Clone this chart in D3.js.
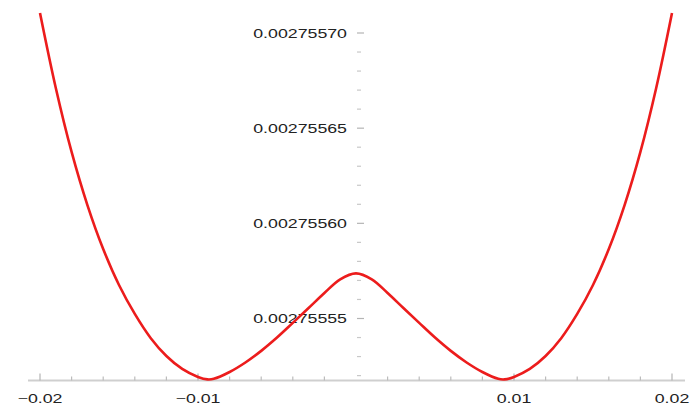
<!DOCTYPE html>
<html>
<head>
<meta charset="utf-8">
<script src="https://cdn.jsdelivr.net/npm/d3@7"></script>
<style>
  html, body { margin: 0; padding: 0; background: #fff; }
  text { font-family: "Liberation Sans", Arial, sans-serif; }
</style>
</head>
<body>
<div id="chart"></div>
<script>
// points
const xValues = [
  -0.02, -0.019, -0.018, -0.017, -0.016, -0.015, -0.014, -0.013, -0.012, -0.011,
  -0.010, -0.0094, -0.009, -0.008, -0.007, -0.006, -0.005, -0.004, -0.003, -0.002, -0.001,
  0,
  0.001, 0.002, 0.003, 0.004, 0.005, 0.006, 0.007, 0.008, 0.009, 0.0094,
  0.010, 0.011, 0.012, 0.013, 0.014, 0.015, 0.016, 0.017, 0.018, 0.019, 0.02
];
const yValues = [
  0.0027557105, 0.0027556711, 0.0027556375, 0.0027556096, 0.0027555865, 0.0027555676,
  0.0027555524, 0.0027555398, 0.0027555303, 0.0027555235,
  0.0027555193, 0.0027555180, 0.0027555183, 0.0027555219, 0.0027555269, 0.0027555330,
  0.0027555400, 0.0027555477, 0.0027555555, 0.0027555634, 0.0027555706,
  0.0027555737,
  0.0027555706, 0.0027555634, 0.0027555555, 0.0027555477, 0.0027555400, 0.0027555330,
  0.0027555269, 0.0027555219, 0.0027555183, 0.0027555180,
  0.0027555193, 0.0027555235, 0.0027555303, 0.0027555398, 0.0027555524,
  0.0027555676, 0.0027555865, 0.0027556096, 0.0027556375, 0.0027556711, 0.0027557105
];
const xMajorTicks = [-0.02, -0.01, 0.01, 0.02];
const xMinorTicks = [-0.018, -0.016, -0.014, -0.012, -0.008, -0.006, -0.004, -0.002,
  0.002, 0.004, 0.006, 0.008, 0.012, 0.014, 0.016, 0.018];
const yMajorTicks = [0.00275555, 0.0027556, 0.00275565, 0.0027557];
const yMinorTicks = [0.00275552, 0.00275553, 0.00275554, 0.00275556, 0.00275557, 0.00275558,
  0.00275559, 0.00275561, 0.00275562, 0.00275563, 0.00275564, 0.00275566, 0.00275567,
  0.00275568, 0.00275569];

const width = 692,
  height = 407;

const x = d3.scaleLinear().domain([-0.02, 0.02]).range([40, 672]);
const y = d3.scaleLinear().domain([0.00275555, 0.0027557]).range([318.5, 33]);
const axisY = 380.5,
  axisX = x(0) + 1;
const stretch = 1.42;

const svg = d3.select("#chart")
  .append("svg")
  .attr("width", width)
  .attr("height", height);

// x axis
svg.append("line")
  .attr("x1", 28).attr("x2", 685)
  .attr("y1", axisY).attr("y2", axisY)
  .style("stroke", "#cfcfcf")
  .style("stroke-width", 2);

svg.selectAll(".xMajor")
  .data(xMajorTicks)
  .enter()
  .append("line")
  .attr("class", "xMajor")
  .attr("x1", d => x(d)).attr("x2", d => x(d))
  .attr("y1", axisY).attr("y2", axisY - 7)
  .style("stroke", "#b4b4b4")
  .style("stroke-width", 1.2);

svg.selectAll(".xMinor")
  .data(xMinorTicks)
  .enter()
  .append("line")
  .attr("class", "xMinor")
  .attr("x1", d => x(d)).attr("x2", d => x(d))
  .attr("y1", axisY).attr("y2", axisY - 4)
  .style("stroke", "#bcbcbc")
  .style("stroke-width", 1.2);

svg.selectAll(".xLabel")
  .data(xMajorTicks)
  .enter()
  .append("text")
  .attr("class", "xLabel")
  .attr("transform", d => `translate(${x(d)},${axisY + 22}) scale(${stretch},1)`)
  .attr("text-anchor", "middle")
  .style("font-size", "12.5px")
  .style("fill", "#222")
  .text(d => d3.format(".2f")(d));

// y axis (ticks only)
svg.selectAll(".yMajor")
  .data(yMajorTicks)
  .enter()
  .append("line")
  .attr("class", "yMajor")
  .attr("x1", axisX).attr("x2", axisX + 7)
  .attr("y1", d => y(d)).attr("y2", d => y(d))
  .style("stroke", "#b4b4b4")
  .style("stroke-width", 1.2);

svg.selectAll(".yMinor")
  .data(yMinorTicks)
  .enter()
  .append("line")
  .attr("class", "yMinor")
  .attr("x1", axisX).attr("x2", axisX + 4)
  .attr("y1", d => y(d)).attr("y2", d => y(d))
  .style("stroke", "#c8c8c8")
  .style("stroke-width", 1.2);

svg.selectAll(".yLabel")
  .data(yMajorTicks)
  .enter()
  .append("text")
  .attr("class", "yLabel")
  .attr("transform", d => `translate(${axisX - 10},${y(d)}) scale(${stretch},1)`)
  .attr("text-anchor", "end")
  .attr("dy", "0.36em")
  .style("font-size", "12.5px")
  .style("fill", "#222")
  .text(d => d3.format(".8f")(d));

// curve
const points = xValues.map((d, i) => [d, yValues[i]]);
const line = d3.line()
  .x(d => x(d[0]))
  .y(d => y(d[1]))
  .curve(d3.curveCatmullRom.alpha(0.5));

svg.append("path")
  .datum(points)
  .attr("d", line)
  .style("fill", "none")
  .style("stroke", "#ec1c1c")
  .style("stroke-width", 2.6)
  .style("stroke-linejoin", "round");
</script>
</body>
</html>
